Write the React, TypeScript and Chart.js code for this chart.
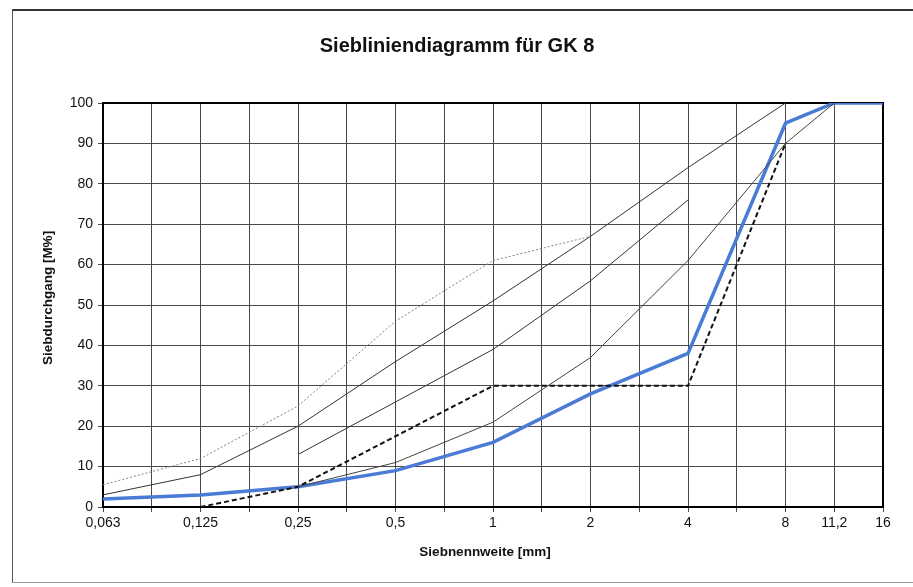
import React, { useEffect, useRef } from "react";
import { Chart, registerables } from "chart.js";

Chart.register(...registerables);

// Sieve sizes (mm) and the axis slots (Excel-like category axis with blank half-steps)
const sieveLabels = ["0,063", "0,125", "0,25", "0,5", "1", "2", "4", "8", "11,2", "16"];
const slotLabels = ["0,063", "", "0,125", "", "0,25", "", "0,5", "", "1", "", "2", "", "4", "", "8", "11,2", "16"];
const sieveSlots = [0, 2, 4, 6, 8, 10, 12, 14, 15, 16];

// Passing percentages [M%] per sieve (null = no value)
const upperDotted = [5.5, 12, 25, 46, 61, 67, null, null, null, null];
const curveC = [3, 8, 20, 36, 51, 67, 84, 100, null, null];
const curveB = [null, null, 13, 26, 39, 56, 76, null, null, null];
const curveA = [null, null, 5, 11, 21, 37, 61, 90, 100, null];
const curveU = [null, 0, 5, null, 30, null, 30, 90, null, null];
const measured = [2, 3, 5, 9, 16, 28, 38, 95, 100, 100];

const yTicks = [0, 10, 20, 30, 40, 50, 60, 70, 80, 90, 100];

const titleText = "Siebliniendiagramm für GK 8";
const xTitle = "Siebnennweite [mm]";
const yTitle = "Siebdurchgang [M%]";

const FONT = "'Liberation Sans', Arial, sans-serif";

function toSlots(arr: (number | null)[]) {
  return slotLabels.map((_, i) => {
    const k = sieveSlots.indexOf(i);
    return k >= 0 ? arr[k] : null;
  });
}

const textPlugin = {
  id: "texts",
  beforeDatasetsDraw(chart: any) {
    const { ctx, chartArea } = chart;
    ctx.save();
    ctx.strokeStyle = "#000";
    ctx.lineWidth = 2;
    ctx.strokeRect(chartArea.left, chartArea.top, chartArea.right - chartArea.left, chartArea.bottom - chartArea.top);
    ctx.restore();
  },
  afterDraw(chart: any) {
    const { ctx } = chart;
    ctx.save();
    ctx.fillStyle = "#111";
    ctx.textAlign = "center";
    ctx.textBaseline = "middle";
    ctx.font = `bold 20px ${FONT}`;
    ctx.fillText(titleText, 457, 46);
    ctx.font = `bold 13.5px ${FONT}`;
    ctx.fillText(xTitle, 485, 552);
    ctx.translate(48, 298);
    ctx.rotate(-Math.PI / 2);
    ctx.fillText(yTitle, 0, 0);
    ctx.restore();
  },
};

export default function App() {
  const ref = useRef<HTMLCanvasElement>(null);
  useEffect(() => {
    if (!ref.current) return;
    const chart = new Chart(ref.current, {
      type: "line",
      data: {
        labels: slotLabels,
        datasets: [
          { label: "obere Grenze", data: toSlots(upperDotted), borderColor: "#808080", borderWidth: 1, borderDash: [2, 2] },
          { label: "C8", data: toSlots(curveC), borderColor: "#333", borderWidth: 1 },
          { label: "B8", data: toSlots(curveB), borderColor: "#333", borderWidth: 1 },
          { label: "A8", data: toSlots(curveA), borderColor: "#444", borderWidth: 1 },
          { label: "U8", data: toSlots(curveU), borderColor: "#111", borderWidth: 2, borderDash: [5, 3] },
          { label: "Sieblinie", data: toSlots(measured), borderColor: "#4a7bd6", borderWidth: 3.5 },
        ] as any,
      },
      options: {
        animation: false,
        responsive: false,
        spanGaps: true,
        elements: { point: { radius: 0 }, line: { tension: 0 } },
        layout: { padding: { left: 58, right: 30, top: 103, bottom: 50 } },
        plugins: { legend: { display: false }, tooltip: { enabled: false }, title: { display: false } },
        scales: {
          x: {
            type: "category",
            offset: false,
            grid: { color: "#4a4a4a", lineWidth: 1, tickLength: 5 },
            border: { color: "#000", width: 2 },
            ticks: { autoSkip: false, maxRotation: 0, color: "#111", padding: 3, font: { family: FONT, size: 14 } },
            afterFit: (s: any) => { s.height = 30; },
          },
          y: {
            min: 0,
            max: 100,
            afterBuildTicks: (s: any) => { s.ticks = yTicks.map((v) => ({ value: v })); },
            grid: { color: "#4a4a4a", lineWidth: 1, tickLength: 5 },
            border: { color: "#000", width: 2 },
            ticks: { color: "#111", padding: 5, font: { family: FONT, size: 14 } },
            afterFit: (s: any) => { s.width = 45; },
          },
        },
      } as any,
      plugins: [textPlugin],
    });
    return () => chart.destroy();
  }, []);
  return (
    <div style={{ position: "fixed", left: 0, top: 0, width: 913, height: 587, background: "#fff" }}>
      <div style={{ position: "absolute", left: 12, top: 9, width: 920, height: 571, borderTop: "2px solid #333", borderLeft: "1px solid #555", borderBottom: "1px solid #999" }} />
      <canvas ref={ref} width={913} height={587} style={{ position: "absolute", left: 0, top: 0 }} />
    </div>
  );
}
